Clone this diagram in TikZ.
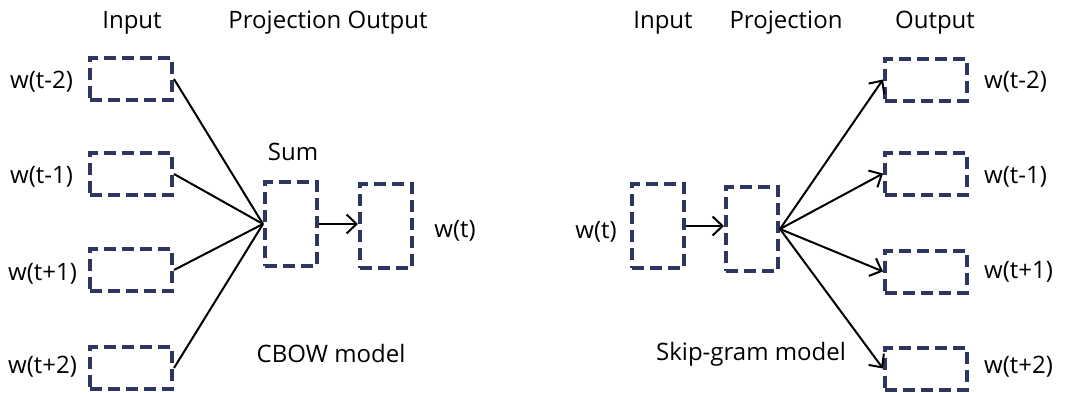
\documentclass[tikz,border=0pt]{standalone}
\usepackage{fontspec}
\setmainfont{Open Sans}
\usetikzlibrary{arrows.meta}
\definecolor{boxnavy}{HTML}{2E3560}
\begin{document}
\begin{tikzpicture}[x=1pt,y=-1pt,
  vec/.style={draw=boxnavy,line width=4pt,dash pattern=on 12pt off 6pt,
    inner sep=0pt,outer sep=2pt},
  wide/.style={vec,minimum width=82pt,minimum height=42pt},
  tall/.style={vec,minimum width=52pt,minimum height=84pt},
  lbl/.style={anchor=base,font=\fontsize{24}{28}\selectfont,inner sep=0pt},
  lbll/.style={lbl,anchor=base west},
  link/.style={line width=2pt,black},
  arr/.style={link,-{Straight Barb[length=10pt,width=19pt,line width=2pt]}}]
\useasboundingbox (0,0) rectangle (1082,392);

% ---------------- CBOW ----------------
\node[lbl] (hInA) at (132,28) {Input};
\node[lbl] (hPOA) at (328,28) {Projection Output};

\node[wide] (cm2) at (131,79) {};
\node[wide] (cm1) at (131,174) {};
\node[wide] (cp1) at (131,270) {};
\node[wide] (cp2) at (131,368) {};

\node[lbll] (lcm2) at (10,88) {w(t-2)};
\node[lbll] (lcm1) at (10,183) {w(t-1)};
\node[lbll] (lcp1) at (8,280) {w(t+1)};
\node[lbll] (lcp2) at (8,373) {w(t+2)};

\node[tall] (sum) at (291,224) {};
\node[tall] (cout) at (386,226) {};
\node[lbl] (lsum) at (293,160) {Sum};
\node[lbl] (lcout) at (455,237) {w(t)};
\node[lbl] (lcbow) at (331,362) {CBOW model};

\foreach \b in {cm2,cm1,cp1,cp2}
  \draw[link] (\b.east) -- (sum.west);
\draw[arr] (sum.east) -- (sum.east -| cout.west);

% ---------------- Skip-gram ----------------
\node[lbl] (hInB) at (663,28) {Input};
\node[lbl] (hPrB) at (786,28) {Projection};
\node[lbl] (hOuB) at (935,28) {Output};

\node[tall] (sin) at (658,226) {};
\node[tall] (sproj) at (752,229) {};
\node[lbl] (lsin) at (596,238) {w(t)};

\node[wide] (sm2) at (926,79.5) {};
\node[wide] (sm1) at (926,173.5) {};
\node[wide] (sp1) at (926,271.5) {};
\node[wide] (sp2) at (926,368.5) {};

\node[lbll] (lsm2) at (984,88) {w(t-2)};
\node[lbll] (lsm1) at (984,183) {w(t-1)};
\node[lbll] (lsp1) at (984,278) {w(t+1)};
\node[lbll] (lsp2) at (984,373) {w(t+2)};

\node[lbl] (lskip) at (751,360) {Skip-gram model};

\draw[arr] (sin.east) -- (sin.east -| sproj.west);
\foreach \b in {sm2,sm1,sp1,sp2}
  \draw[arr] (sproj.east) -- (\b.west);
\end{tikzpicture}
\end{document}
